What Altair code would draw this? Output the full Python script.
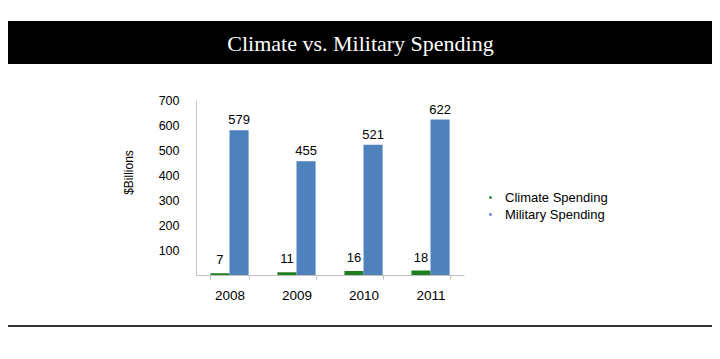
import altair as alt
import pandas as pd

years = ["2008", "2009", "2010", "2011"]
climate = [7, 11, 16, 18]
military = [579, 455, 521, 622]
series_names = ["Climate Spending", "Military Spending"]
series_colors = ["#1f7f1f", "#4f81bd"]
title_text = "Climate vs. Military Spending"
y_ticks = [100, 200, 300, 400, 500, 600, 700]

rows = []
for i, y in enumerate(years):
    rows.append({"year": y, "series": series_names[0], "value": climate[i]})
    rows.append({"year": y, "series": series_names[1], "value": military[i]})
df = pd.DataFrame(rows)

FONT = "Liberation Sans"

x_enc = alt.X(
    "year:N",
    sort=years,
    scale=alt.Scale(paddingInner=0.43, paddingOuter=0.215),
    axis=alt.Axis(
        title=None, labelAngle=0, labelFontSize=13.5, labelFont=FONT, labelColor="#000",
        domainColor="#bfbfbf", tickColor="#bfbfbf", tickBand="extent", tickSize=4,
        labelPadding=9, labelBaseline="top",
    ),
)
xoff = alt.XOffset("series:N", sort=series_names, scale=alt.Scale(paddingInner=0, paddingOuter=0))
y_enc = alt.Y(
    "value:Q",
    scale=alt.Scale(domain=[0, 700], nice=False),
    axis=alt.Axis(
        title="$Billions", values=y_ticks, grid=False, labelOverlap=False,
        ticks=False, tickSize=0, labelPadding=17, labelFontSize=12.5, labelFont=FONT,
        labelColor="#000", domainColor="#c8c8c8", titleFont=FONT, titleFontSize=12,
        titleFontWeight="normal", titleColor="#000", titleX=-68, titleY=72,
        titleAngle=-90, titleAlign="center", titleBaseline="middle",
    ),
)

base = alt.Chart(df).encode(x=x_enc, xOffset=xoff, y=y_enc)

bars = base.mark_bar().encode(
    color=alt.Color(
        "series:N",
        scale=alt.Scale(domain=series_names, range=series_colors),
        legend=alt.Legend(
            title=None, orient="none", legendX=288, legendY=91, symbolType="square",
            symbolSize=6, labelFontSize=13, labelFont=FONT, labelColor="#000",
            labelOffset=8, rowPadding=3, padding=0,
        ),
    ),
)

lab_mil = base.mark_text(baseline="alphabetic", dy=-6, fontSize=13, font=FONT, color="#000").encode(
    text="value:Q"
).transform_filter(alt.datum.series == series_names[1])
lab_cli = base.mark_text(baseline="alphabetic", dy=-9, fontSize=13, font=FONT, color="#000").encode(
    text="value:Q"
).transform_filter(alt.datum.series == series_names[0])

deco = alt.Chart(pd.DataFrame({"t": [title_text]}))
band = deco.mark_rect(color="#000").encode(
    x=alt.value(-188), x2=alt.value(516), y=alt.value(-79), y2=alt.value(-36)
)
title = deco.mark_text(
    font="Liberation Serif", fontSize=22, color="#ffffff", align="center", baseline="alphabetic"
).encode(x=alt.value(164.5), y=alt.value(-49), text="t:N")
rule = deco.mark_rule(color="#333333", strokeWidth=2).encode(
    x=alt.value(-188), x2=alt.value(516), y=alt.value(226)
)

chart = alt.layer(band, title, rule, bars, lab_mil, lab_cli).properties(
    width=268, height=175,
    autosize=alt.AutoSizeParams(type="none"),
    padding={"left": 188, "top": 92, "right": 248, "bottom": 76},
).configure_view(stroke=None)

chart.save("out.html", embed_options={"renderer": "svg", "actions": False})
